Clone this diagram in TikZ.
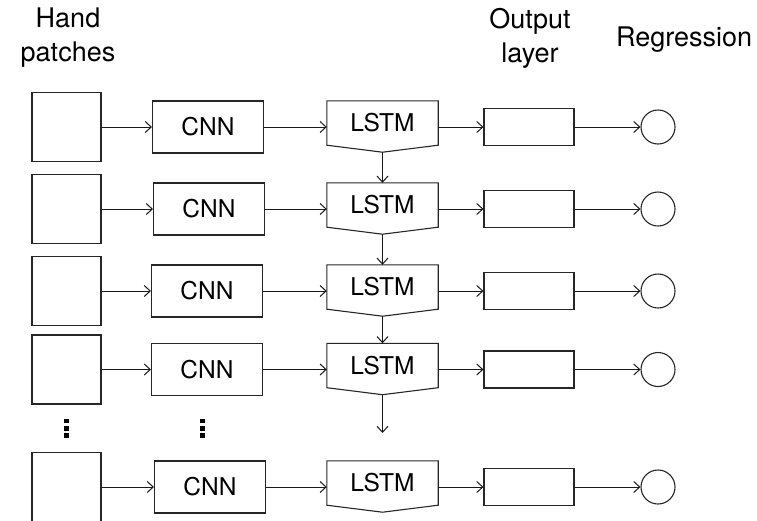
\documentclass[tikz,border=0pt]{standalone}
\usepackage{fontspec}
\setmainfont{TeX Gyre Heros}
\usetikzlibrary{arrows.meta,calc}

\tikzset{
  boxline/.style={draw=black!85, line width=1.1pt},
  patch/.style={boxline, minimum width=69pt, minimum height=69pt, inner sep=0pt},
  cnnbox/.style={boxline, minimum width=111pt, minimum height=52pt, inner sep=0pt,
    font=\fontsize{24.5}{28}\selectfont},
  lstmbox/.style={minimum width=111pt, minimum height=44pt, inner sep=0pt,
    font=\fontsize{24.5}{28}\selectfont},
  outbox/.style={boxline, minimum width=90pt, minimum height=37pt, inner sep=0pt},
  regnode/.style={boxline, circle, minimum size=34pt, inner sep=0pt},
  flow/.style={draw=black!90, line width=1pt, -{Straight Barb[length=6pt,width=11pt,line width=1pt]}},
  heading/.style={anchor=north, inner sep=0pt, align=center,
    font=\fontsize{27}{34}\selectfont},
  dotmark/.style={fill=black, minimum size=4.6pt, inner sep=0pt, rectangle}
}

\begin{document}
\begin{tikzpicture}[x=1pt, y=1pt]
  \useasboundingbox (0,0) rectangle (757,-520);
  \clip (0,0) rectangle (757,-520);

  % column headings
  \node[heading] (hHand) at (68,-8) {Hand\\patches};
  \node[heading] (hOut)  at (530,-8) {Output\\layer};
  \node[heading] (hReg)  at (684,-27) {Regression};

  % one row per time step: index / arrow height / CNN centre x
  \foreach \i/\y/\cx in {1/127/208, 2/209/209, 3/291/207, 4/369.5/207, 5/487/210} {
    \node[patch]   (p\i) at (66.5,-\y) {};
    \node[cnnbox]  (c\i) at (\cx,-\y) {CNN};
    \node[lstmbox] (l\i) at (382.5,-\y+4) {\raisebox{-2pt}{LSTM}};
    \draw[boxline] (l\i.north west) -- (l\i.north east) -- (l\i.south east)
      -- ($(l\i.south)+(0,-7)$) -- (l\i.south west) -- cycle;
    \node[outbox]  (o\i) at (529,-\y) {};
    \node[regnode] (r\i) at (658,-\y) {};
    \draw[flow] (p\i) -- (c\i);
    \draw[flow] (c\i) -- (c\i -| l\i.west);
    \draw[flow] (l\i.east |- c\i) -- (o\i);
    \draw[flow] (o\i) -- (r\i);
  }

  % recurrent links between consecutive LSTM cells
  \foreach \i/\j in {1/2, 2/3, 3/4} {
    \draw[flow] ($(l\i.south)+(0,-7)$) -- (l\j.north);
  }
  \coordinate (lend) at (382.5,-433);
  \draw[flow] ($(l4.south)+(0,-7)$) -- (lend);

  % vertical ellipses for the omitted rows
  \foreach \x/\n in {66.7/a, 202.7/b} {
    \node[dotmark] (d\n1) at (\x,-420.8) {};
    \node[dotmark] (d\n2) at (\x,-428.2) {};
    \node[dotmark] (d\n3) at (\x,-435.6) {};
  }
\end{tikzpicture}
\end{document}
